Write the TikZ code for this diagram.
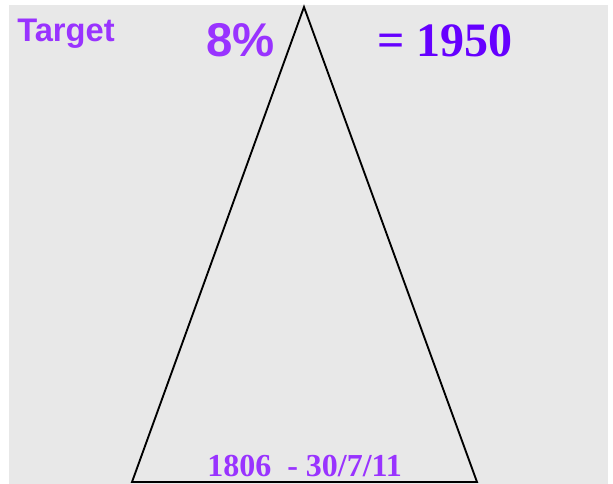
\documentclass[tikz,border=0pt]{standalone}
\usepackage{fontspec}
\setmainfont{Liberation Serif}
\newfontfamily\arialfont{Liberation Sans}
\definecolor{bggrey}{HTML}{E8E8E8}
\definecolor{lilac}{HTML}{9933FF}
\definecolor{violet}{HTML}{6600FF}
\tikzset{
  sanslabel/.style={inner sep=0pt, anchor=base west, text=lilac},
  seriflabel/.style={inner sep=0pt, anchor=base west},
}
\begin{document}
\begin{tikzpicture}[x=0.75pt,y=-0.75pt]
\useasboundingbox (0,0) rectangle (613,484);
\fill[bggrey] (9,5) rectangle (608,484);
\coordinate (apex) at (304,7);
\coordinate (bl) at (132,482);
\coordinate (br) at (477,482);
\draw[line width=1.4pt, line join=miter] (bl) -- (apex) -- (br) -- cycle;
\node[sanslabel, font=\arialfont\bfseries\fontsize{24.5}{28}\selectfont] (target) at (17,42) {Target};
\node[sanslabel, font=\arialfont\bfseries\fontsize{35.5}{40}\selectfont] (pct) at (206,57) {8\%};
\node[seriflabel, text=violet, font=\bfseries\fontsize{36}{42}\selectfont] (val) at (377,57) {= 1950};
\node[seriflabel, text=lilac, font=\bfseries\fontsize{24}{28}\selectfont] (dates) at (207,476) {1806\ \ - 30/7/11};
\end{tikzpicture}
\end{document}
